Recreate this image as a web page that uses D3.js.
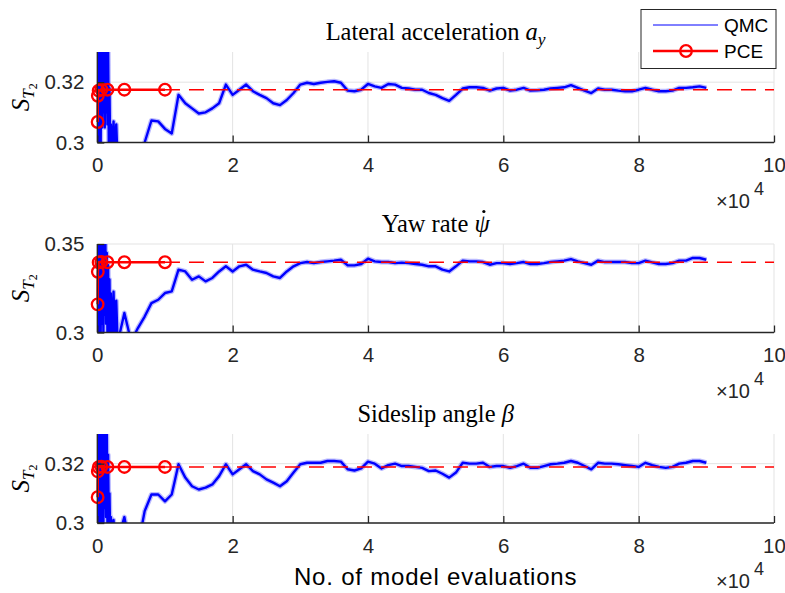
<!DOCTYPE html>
<html>
<head>
<meta charset="utf-8">
<script src="https://cdn.jsdelivr.net/npm/d3@7"></script>
<style>
  body { margin: 0; background: #fff; }
  text { font-family: "Liberation Sans", Arial, sans-serif; fill: #262626; }
  .serif { font-family: "Liberation Serif", "Times New Roman", serif; fill: #000; }
</style>
</head>
<body>
<svg id="chart" width="785" height="593"></svg>
<script>
// number of model evaluations for the QMC curves (dense at the start)
var qmcN = [0, 100, 200, 300, 400, 500, 600, 700, 800, 900, 1000, 1100, 1200, 1300,
            1400, 1500, 1600, 1700, 1800, 1900, 2000, 2200, 2400, 2600, 2800]
            .concat(d3.range(3000, 90001, 1000));

// QMC estimates
var qmcLat = [0.34, 0.29, 0.345, 0.295, 0.34, 0.30, 0.338, 0.305, 0.336, 0.31, 0.334, 0.305, 0.332,
  0.31, 0.333, 0.306, 0.331, 0.30, 0.318, 0.298, 0.306, 0.296, 0.307, 0.295, 0.306,
  0.294, 0.29, 0.285, 0.288, 0.300, 0.3073, 0.307, 0.3045, 0.303, 0.3158,
  0.313, 0.3113, 0.3096, 0.310, 0.3113, 0.313, 0.3192, 0.3158, 0.3175, 0.3192,
  0.317, 0.3158, 0.3147, 0.313, 0.3124, 0.3141, 0.3164, 0.3192, 0.3198, 0.3194,
  0.3198, 0.3201, 0.3203, 0.3198, 0.3172, 0.317, 0.3175, 0.3194, 0.3186, 0.3181,
  0.3194, 0.3192, 0.3181, 0.3179, 0.3175, 0.3175, 0.3164, 0.3158, 0.3147, 0.3138,
  0.3158, 0.3179, 0.3183, 0.3183, 0.3181, 0.3172, 0.3179, 0.3181, 0.3172, 0.3175,
  0.3181, 0.3172, 0.3173, 0.3175, 0.3179, 0.3181, 0.3183, 0.319, 0.3181, 0.3172,
  0.3164, 0.3179, 0.3175, 0.3175, 0.3172, 0.317, 0.317, 0.3175, 0.3181, 0.3175,
  0.317, 0.317, 0.3172, 0.3181, 0.3181, 0.3183, 0.3186, 0.3181];

var qmcYaw = [0.36, 0.295, 0.36, 0.30, 0.355, 0.30, 0.358, 0.305, 0.352, 0.30, 0.356, 0.31, 0.35,
  0.305, 0.345, 0.30, 0.338, 0.298, 0.33, 0.297, 0.322, 0.296, 0.323, 0.295, 0.318,
  0.294, 0.311, 0.295, 0.3025, 0.309, 0.3166, 0.3185, 0.3223, 0.3232, 0.3355,
  0.3345, 0.3298, 0.3317, 0.3289, 0.3308, 0.3345, 0.3374, 0.3345, 0.3374, 0.3383,
  0.3355, 0.3345, 0.3336, 0.3317, 0.3308, 0.3345, 0.3374, 0.3392, 0.3398, 0.3392,
  0.3398, 0.3402, 0.3406, 0.3411, 0.3379, 0.3379, 0.3387, 0.3417, 0.3402, 0.3398,
  0.3398, 0.3392, 0.3395, 0.3392, 0.3387, 0.3383, 0.3374, 0.3374, 0.3355, 0.3345,
  0.3374, 0.3406, 0.3402, 0.3402, 0.3398, 0.3383, 0.3392, 0.3392, 0.3387, 0.3392,
  0.3398, 0.3387, 0.3387, 0.3392, 0.3398, 0.3402, 0.3406, 0.3415, 0.3402, 0.3392,
  0.3383, 0.3406, 0.3398, 0.3398, 0.3398, 0.3398, 0.3392, 0.3392, 0.3406, 0.3396,
  0.3387, 0.3387, 0.3392, 0.3406, 0.3406, 0.3421, 0.3421, 0.3411];

var qmcSlip = [0.34, 0.30, 0.345, 0.295, 0.34, 0.30, 0.338, 0.298, 0.335, 0.30, 0.334, 0.305, 0.333,
  0.302, 0.332, 0.30, 0.323, 0.298, 0.31, 0.296, 0.302, 0.295, 0.301, 0.295, 0.294,
  0.294, 0.302, 0.29, 0.292, 0.304, 0.3096, 0.3096, 0.3073, 0.3096, 0.3198,
  0.3153, 0.3124, 0.3113, 0.3119, 0.313, 0.3158, 0.3198, 0.3164, 0.3181, 0.3198,
  0.3175, 0.3164, 0.3147, 0.3136, 0.3124, 0.3141, 0.317, 0.3198, 0.3203, 0.3203,
  0.3203, 0.3209, 0.3209, 0.3207, 0.3181, 0.3177, 0.3184, 0.3207, 0.32, 0.3184,
  0.3195, 0.32, 0.3192, 0.3192, 0.3189, 0.3186, 0.3175, 0.3177, 0.3166, 0.3153,
  0.317, 0.3203, 0.32, 0.32, 0.3203, 0.3189, 0.3192, 0.3192, 0.3186, 0.3192,
  0.32, 0.3186, 0.3186, 0.3192, 0.3198, 0.32, 0.3203, 0.3209, 0.3203, 0.3192,
  0.3181, 0.3203, 0.32, 0.32, 0.3198, 0.3195, 0.3192, 0.3189, 0.3203, 0.3195,
  0.3189, 0.3186, 0.3189, 0.32, 0.3203, 0.3209, 0.3209, 0.3203];

// PCE estimates for increasing experimental designs
var pceN = [50, 80, 200, 600, 1500, 4000, 10000];
var pceLat = [0.3068, 0.3155, 0.3172, 0.3176, 0.3175, 0.3175, 0.3175];
var pceYaw = [0.3159, 0.3343, 0.3396, 0.3399, 0.3397, 0.3397, 0.3397];
var pceSlip = [0.3087, 0.3174, 0.3188, 0.3190, 0.3189, 0.3189, 0.3189];

var xTicks = [0, 2, 4, 6, 8, 10];   // x 10^4

var panels = [
  { qmc: qmcLat, pce: pceLat, top: 52, bottom: 142.5, ydom: [0.3, 0.33], yticks: [0.3, 0.32], title: "lat" },
  { qmc: qmcYaw, pce: pceYaw, top: 244, bottom: 332.5, ydom: [0.3, 0.35], yticks: [0.3, 0.35], title: "yaw" },
  { qmc: qmcSlip, pce: pceSlip, top: 434, bottom: 523, ydom: [0.3, 0.33], yticks: [0.3, 0.32], title: "slip" }
];

var svg = d3.select("#chart");
var left = 97.3, right = 774;
var x = d3.scaleLinear().domain([0, 100000]).range([left, right]);

panels.forEach(function(p, i) {
  var y = d3.scaleLinear().domain(p.ydom).range([p.bottom, p.top]);
  var g = svg.append("g");

  // grid
  g.selectAll(".vg").data(xTicks).enter().append("line")
    .attr("x1", d => x(d * 1e4)).attr("x2", d => x(d * 1e4))
    .attr("y1", p.top).attr("y2", p.bottom)
    .attr("stroke", "#e3e3e3").attr("stroke-width", 1);
  g.selectAll(".hg").data(p.yticks).enter().append("line")
    .attr("x1", left).attr("x2", right)
    .attr("y1", d => y(d)).attr("y2", d => y(d))
    .attr("stroke", "#e3e3e3").attr("stroke-width", 1);

  // clip for the QMC curve
  svg.append("clipPath").attr("id", "clip" + i)
    .append("rect").attr("x", left).attr("y", p.top)
    .attr("width", right - left).attr("height", p.bottom - p.top);

  var line = d3.line().x((d, j) => x(qmcN[j])).y(d => y(d));
  // soft halo + core to mimic the noisy band of the sampled estimate
  g.append("path").datum(p.qmc)
    .attr("clip-path", "url(#clip" + i + ")")
    .attr("d", line)
    .attr("fill", "none").attr("stroke", "#3a3aff").attr("stroke-opacity", 0.35)
    .attr("stroke-width", 5).attr("stroke-linejoin", "round");
  g.append("path").datum(p.qmc)
    .attr("clip-path", "url(#clip" + i + ")")
    .attr("d", line)
    .attr("fill", "none").attr("stroke", "#0000ff")
    .attr("stroke-width", 2.4).attr("stroke-linejoin", "round");

  // converged PCE value, dashed
  var last = p.pce[p.pce.length - 1];
  g.append("line")
    .attr("x1", x(pceN[pceN.length - 1])).attr("x2", x(100000))
    .attr("y1", y(last)).attr("y2", y(last))
    .attr("stroke", "#ff0000").attr("stroke-width", 1.5)
    .attr("stroke-dasharray", "15,9");

  var pline = d3.line().x((d, j) => x(pceN[j])).y(d => y(d));
  g.append("path").datum(p.pce).attr("d", pline)
    .attr("fill", "none").attr("stroke", "#ff0000").attr("stroke-width", 2.5);
  g.selectAll(".pc").data(p.pce).enter().append("circle")
    .attr("cx", (d, j) => x(pceN[j])).attr("cy", d => y(d)).attr("r", 5.8)
    .attr("fill", "none").attr("stroke", "#ff0000").attr("stroke-width", 2.3);

  // axes (left + bottom only, ticks inward)
  var xAxis = d3.axisBottom(x).tickValues(xTicks.map(d => d * 1e4))
    .tickFormat(d => d / 1e4).tickSizeInner(-7).tickSizeOuter(0).tickPadding(15);
  var ax = g.append("g").attr("transform", "translate(0," + p.bottom + ")").call(xAxis);
  var yAxis = d3.axisLeft(y).tickValues(p.yticks).tickFormat(d3.format("~g"))
    .tickSizeInner(-7).tickSizeOuter(0).tickPadding(13);
  var ay = g.append("g").attr("transform", "translate(" + left + ",0)").call(yAxis);
  [ax, ay].forEach(function(a) {
    a.select(".domain").attr("stroke", "#262626").attr("stroke-width", 1.3);
    a.selectAll(".tick line").attr("stroke", "#262626").attr("stroke-width", 1.3);
    a.selectAll(".tick text").attr("fill", "#262626")
      .style("font-family", '"Liberation Sans", Arial, sans-serif').style("font-size", "20.5px");
  });
  ax.select(".domain").attr("d", "M" + left + ",0H" + right);
  ay.select(".domain").attr("d", "M0," + p.bottom + "V" + p.top);

  // x10^4 multiplier
  var m = g.append("text").attr("x", 716).attr("y", p.bottom + 65).style("font-size", "20px");
  m.append("tspan").text("\u00d710");
  m.append("tspan").attr("dx", 4).attr("dy", -13).style("font-size", "18px").text("4");

  // title
  var cx = (left + right) / 2;
  var t = g.append("text").attr("class", "serif").attr("x", cx).attr("y", p.top - 12)
    .attr("text-anchor", "middle").style("font-size", "24.5px");
  if (p.title === "lat") {
    t.append("tspan").text("Lateral acceleration ");
    t.append("tspan").style("font-style", "italic").text("a");
    t.append("tspan").attr("dy", 5).style("font-style", "italic").style("font-size", "17.5px").text("y");
  } else if (p.title === "yaw") {
    t.append("tspan").text("Yaw rate ");
    t.append("tspan").style("font-style", "italic").text("\u03c8");
    // dot accent over psi (time derivative)
    var ext = t.node().getExtentOfChar(9);
    g.append("circle").attr("cx", ext.x + ext.width * 0.62).attr("cy", ext.y + 1.5)
      .attr("r", 1.6).attr("fill", "#000");
  } else {
    t.append("tspan").text("Sideslip angle ");
    t.append("tspan").style("font-style", "italic").text("\u03b2");
  }

  // y label S_{T_2}
  var yl = g.append("text").attr("class", "serif")
    .attr("transform", "translate(29," + (p.top + p.bottom) / 2 + ") rotate(-90)")
    .attr("text-anchor", "middle").style("font-style", "italic").style("font-size", "25px");
  yl.append("tspan").text("S");
  yl.append("tspan").attr("dy", 5).style("font-size", "17px").text("T");
  yl.append("tspan").attr("dy", 3).style("font-size", "12px").style("font-style", "normal").text("2");
});

// x label
svg.append("text").attr("x", (left + right) / 2).attr("y", 585)
  .attr("text-anchor", "middle").style("font-size", "24px").style("fill", "#000")
  .style("letter-spacing", "0.8px")
  .text("No. of model evaluations");

// legend
var lg = svg.append("g");
lg.append("rect").attr("x", 641).attr("y", 9.5).attr("width", 135).attr("height", 59)
  .attr("fill", "#fff").attr("stroke", "#262626").attr("stroke-width", 1);
lg.append("line").attr("x1", 653).attr("x2", 718).attr("y1", 25).attr("y2", 25)
  .attr("stroke", "#0000ff").attr("stroke-width", 1);
lg.append("line").attr("x1", 653).attr("x2", 718).attr("y1", 51).attr("y2", 51)
  .attr("stroke", "#ff0000").attr("stroke-width", 2.5);
lg.append("circle").attr("cx", 686).attr("cy", 51).attr("r", 5.8)
  .attr("fill", "none").attr("stroke", "#ff0000").attr("stroke-width", 2.3);
lg.append("text").attr("x", 724).attr("y", 32).style("font-size", "19px").style("fill", "#000").text("QMC");
lg.append("text").attr("x", 724).attr("y", 58).style("font-size", "19px").style("fill", "#000").text("PCE");
</script>
</body>
</html>
